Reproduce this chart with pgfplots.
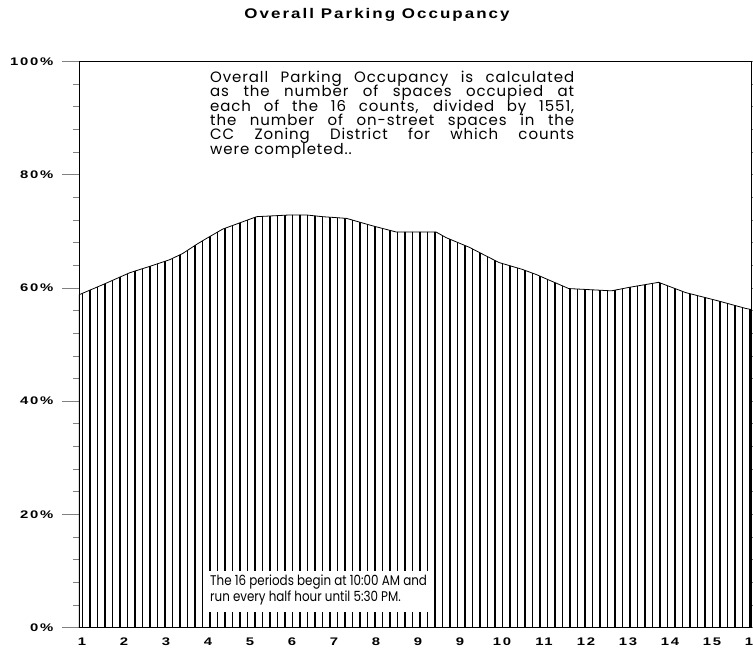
\documentclass[border=0pt]{standalone}
\usepackage{fontspec}
\usepackage{graphicx}
\usepackage{pgfplots}
\pgfplotsset{compat=1.18}
\usetikzlibrary{patterns.meta}
\newfontfamily\bsans[LetterSpace=12]{Liberation Sans}
\newfontfamily\hand[LetterSpace=6]{Poppins}
\newfontfamily\handb{Poppins}
\newcommand\wl[1]{\scalebox{1.35}[1]{#1}}
\begin{document}
\begin{tikzpicture}
\begin{axis}[
  at={(0,0)}, anchor=south west,
  scale only axis, width=672pt, height=566pt,
  xmin=0, xmax=16, ymin=0, ymax=100,
  axis line style={line width=0.8pt},
  xtick={0,...,16},
  xticklabels={\wl{1},\wl{2},\wl{3},\wl{4},\wl{5},\wl{6},\wl{7},\wl{8},\wl{9},\wl{9},\wl{10},\wl{11},\wl{12},\wl{13},\wl{14},\wl{15},\wl{16}},
  ytick={0,20,40,60,80,100},
  yticklabels={\wl{0\%},\wl{20\%},\wl{40\%},\wl{60\%},\wl{80\%},\wl{100\%}},
  minor y tick num=4,
  tick align=outside,
  major tick length=17pt, minor tick length=6pt,
  xtick style={draw=none},
  ytick style={line width=0.8pt},
  ticklabel style={font=\bsans\bfseries\fontsize{11}{11}\selectfont},
  yticklabel style={xshift=-5pt},
  xticklabel style={yshift=10pt, xshift=3pt},
]
\addplot[draw=black, line width=0.8pt, pattern={Lines[angle=90,distance=7.5pt,line width=1.5pt]}, pattern color=black] table {
x y
0 58.8
0.57 60.6
1.21 62.7
1.76 64.0
2.16 65.0
2.47 66.1
2.8 67.7
3.0 68.6
3.42 70.4
4.23 72.6
5.01 72.9
5.42 72.9
5.8 72.6
6.37 72.3
6.98 71.0
7.55 69.9
8.5 69.9
8.74 68.9
9.29 67.2
10.0 64.5
10.55 63.3
10.88 62.4
11.66 59.9
12.68 59.5
13.09 60.1
13.8 61.0
14.44 59.2
15.23 57.7
15.87 56.4
16 56.2
} \closedcycle;
\end{axis}
\node[anchor=base] at (298pt,609pt) {\scalebox{1.21}[1]{\bsans\bfseries\fontsize{14}{14}\selectfont Overall Parking Occupancy}};
\node[anchor=north west, inner sep=0pt, align=left, font={\hand\fontsize{15}{14.4}\selectfont\lineskiplimit=-\maxdimen}] at (131pt,557pt) {%
\makebox[364pt][s]{Overall Parking Occupancy is calculated}\\
\makebox[364pt][s]{as the number of spaces occupied at}\\
\makebox[364pt][s]{each of the 16 counts, divided by 1551,}\\
\makebox[364pt][s]{the number of on-street spaces in the}\\
\makebox[364pt][s]{CC Zoning District for which counts}\\
were completed..};
\fill[white] (126pt,16pt) rectangle (351pt,57pt);
\node[anchor=north west, inner sep=0pt, align=left, font={\handb\fontsize{14}{16.5}\selectfont\lineskiplimit=-\maxdimen}] at (131pt,53pt) {%
\scalebox{0.85}[1]{The 16 periods begin at 10:00 AM and}\\
\scalebox{0.85}[1]{run every half hour until 5:30 PM.}};
\pgfresetboundingbox
\path[use as bounding box] (-79pt,-23.4pt) rectangle (674pt,627.6pt);
\end{tikzpicture}
\end{document}
